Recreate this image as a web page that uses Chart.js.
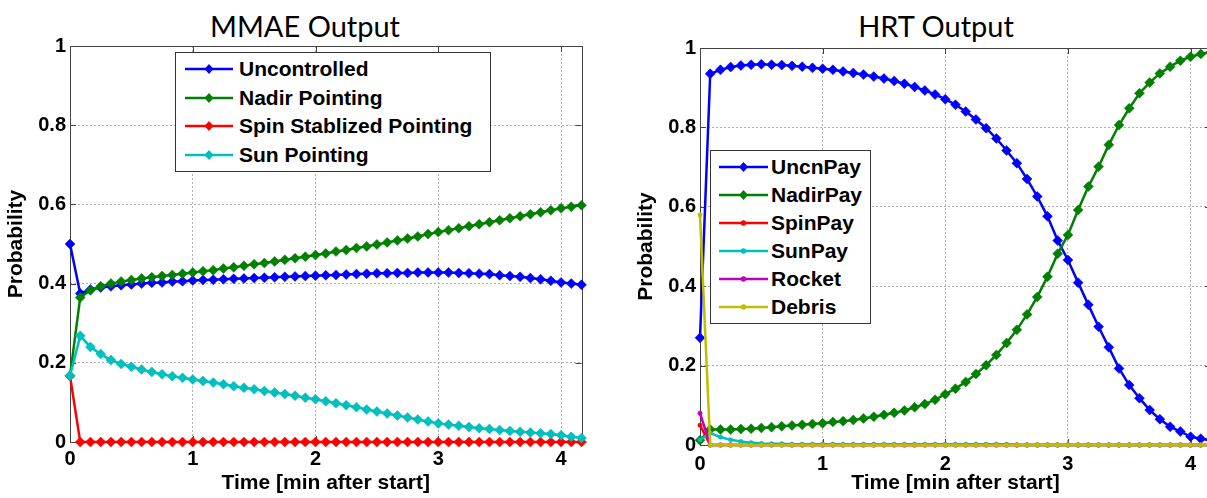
<!DOCTYPE html>
<html>
<head>
<meta charset="utf-8">
<title>MMAE Output / HRT Output</title>
<script src="https://cdn.jsdelivr.net/npm/chart.js@4.4.1/dist/chart.umd.min.js"></script>
<style>
  html, body { margin: 0; padding: 0; background: #fff; overflow: hidden; }
  body { position: relative; width: 1207px; height: 498px; }
  .panel { position: absolute; top: 0; width: 600px; height: 498px; }
  #mmaePanel { left: 0; }
  #hrtPanel { left: 630px; }
  .title { position: absolute; top: 11px; font: 29px Lato, "Open Sans", sans-serif; line-height: 1; color: #000; transform: translateX(-50%); white-space: nowrap; }
  .legend { position: absolute; box-sizing: border-box; background: #fff; border: 1px solid #333; padding: 2px 0; font: bold 21px "Liberation Sans", Arial, sans-serif; color: #000; }
  .legend .row { display: flex; align-items: center; white-space: nowrap; }
  .legend svg { flex: none; }
  #mmaeLegend { left: 175px; top: 52px; width: 316px; padding-left: 9px; }
  #mmaeLegend .row { height: 28.5px; }
  #mmaeLegend svg { margin-right: 6px; }
  #hrtLegend { left: 710px; top: 150px; width: 161px; padding-left: 8px; }
  #hrtLegend .row { height: 28px; }
  #hrtLegend svg { margin-right: 3px; }
</style>
</head>
<body>
<div class="title" style="left: 305px">MMAE Output</div>
<div class="title" style="left: 936px">HRT Output</div>
<div class="panel" id="mmaePanel"><canvas id="mmaeChart"></canvas></div>
<div class="panel" id="hrtPanel"><canvas id="hrtChart"></canvas></div>
<div class="legend" id="mmaeLegend"></div>
<div class="legend" id="hrtLegend"></div>

<script>
// time samples, minutes after start (5 s steps)
const timeMin = [0, 0.0833, 0.1667, 0.25, 0.3333, 0.4167, 0.5, 0.5833, 0.6667, 0.75, 0.8333, 0.9167,
  1, 1.0833, 1.1667, 1.25, 1.3333, 1.4167, 1.5, 1.5833, 1.6667, 1.75, 1.8333, 1.9167,
  2, 2.0833, 2.1667, 2.25, 2.3333, 2.4167, 2.5, 2.5833, 2.6667, 2.75, 2.8333, 2.9167,
  3, 3.0833, 3.1667, 3.25, 3.3333, 3.4167, 3.5, 3.5833, 3.6667, 3.75, 3.8333, 3.9167,
  4, 4.0833, 4.1667]
const xTicks = [0, 1, 2, 3, 4]
const yTicks = [0, 0.2, 0.4, 0.6, 0.8, 1]

// MMAE Output
const uncontrolled = [0.500, 0.375, 0.385, 0.390, 0.393, 0.396, 0.398, 0.400, 0.402, 0.403, 0.405, 0.406,
  0.408, 0.409, 0.410, 0.411, 0.412, 0.413, 0.414, 0.415, 0.416, 0.417, 0.418, 0.419,
  0.420, 0.421, 0.422, 0.423, 0.424, 0.425, 0.426, 0.426, 0.427, 0.427, 0.428, 0.428,
  0.428, 0.428, 0.427, 0.426, 0.425, 0.424, 0.421, 0.419, 0.417, 0.414, 0.411, 0.407,
  0.403, 0.400, 0.397]
const nadirPointing = [0.167, 0.365, 0.383, 0.393, 0.400, 0.405, 0.409, 0.413, 0.416, 0.419, 0.422, 0.425,
  0.428, 0.431, 0.434, 0.438, 0.441, 0.445, 0.449, 0.452, 0.456, 0.460, 0.464, 0.468,
  0.472, 0.476, 0.481, 0.485, 0.490, 0.494, 0.499, 0.504, 0.509, 0.514, 0.519, 0.525,
  0.530, 0.535, 0.540, 0.545, 0.550, 0.555, 0.560, 0.565, 0.570, 0.575, 0.580, 0.585,
  0.590, 0.594, 0.598]
const spinPointing = [0.167, 0, 0, 0, 0, 0, 0, 0, 0, 0, 0, 0,
  0, 0, 0, 0, 0, 0, 0, 0, 0, 0, 0, 0,
  0, 0, 0, 0, 0, 0, 0, 0, 0, 0, 0, 0,
  0, 0, 0, 0, 0, 0, 0, 0, 0, 0, 0, 0,
  0, 0, 0]
const sunPointing = [0.167, 0.268, 0.240, 0.222, 0.207, 0.197, 0.190, 0.183, 0.177, 0.171, 0.166, 0.162,
  0.158, 0.154, 0.150, 0.146, 0.141, 0.137, 0.133, 0.129, 0.125, 0.121, 0.117, 0.112,
  0.108, 0.103, 0.098, 0.093, 0.088, 0.082, 0.077, 0.072, 0.067, 0.062, 0.057, 0.052,
  0.047, 0.044, 0.041, 0.038, 0.035, 0.033, 0.030, 0.028, 0.026, 0.024, 0.022, 0.020,
  0.017, 0.013, 0.010]

// HRT Output
const uncnPay = [0.270, 0.935, 0.945, 0.952, 0.956, 0.958, 0.959, 0.958, 0.957, 0.955, 0.953, 0.950,
  0.948, 0.945, 0.941, 0.937, 0.933, 0.928, 0.923, 0.917, 0.910, 0.902, 0.893, 0.883,
  0.871, 0.857, 0.840, 0.820, 0.798, 0.772, 0.742, 0.710, 0.670, 0.626, 0.576, 0.515,
  0.466, 0.409, 0.353, 0.298, 0.246, 0.193, 0.151, 0.118, 0.088, 0.065, 0.046, 0.034,
  0.021, 0.016, 0.012]
const nadirPay = [0.012, 0.039, 0.039, 0.039, 0.040, 0.041, 0.043, 0.045, 0.047, 0.049, 0.051, 0.053,
  0.055, 0.058, 0.060, 0.063, 0.067, 0.071, 0.076, 0.081, 0.087, 0.095, 0.103, 0.114,
  0.128, 0.142, 0.159, 0.179, 0.201, 0.227, 0.257, 0.290, 0.329, 0.373, 0.424, 0.482,
  0.529, 0.592, 0.651, 0.701, 0.756, 0.806, 0.848, 0.886, 0.913, 0.936, 0.953, 0.968,
  0.978, 0.985, 0.990]
const spinPay = [0.050, 0, 0, 0, 0, 0, 0, 0, 0, 0, 0, 0,
  0, 0, 0, 0, 0, 0, 0, 0, 0, 0, 0, 0,
  0, 0, 0, 0, 0, 0, 0, 0, 0, 0, 0, 0,
  0, 0, 0, 0, 0, 0, 0, 0, 0, 0, 0, 0,
  0, 0, 0]
const sunPay = [0.013, 0.030, 0.020, 0.013, 0.009, 0.006, 0.004, 0.003, 0.003, 0.002, 0.002, 0.002,
  0.002, 0.002, 0.002, 0.002, 0.002, 0.002, 0.002, 0.002, 0.002, 0.002, 0.002, 0.002,
  0.002, 0.002, 0.002, 0.002, 0.002, 0.002, 0.002, 0, 0, 0, 0, 0,
  0, 0, 0, 0, 0, 0, 0, 0, 0, 0, 0, 0,
  0, 0, 0]
const rocket = [0.080, 0, 0, 0, 0, 0, 0, 0, 0, 0, 0, 0,
  0, 0, 0, 0, 0, 0, 0, 0, 0, 0, 0, 0,
  0, 0, 0, 0, 0, 0, 0, 0, 0, 0, 0, 0,
  0, 0, 0, 0, 0, 0, 0, 0, 0, 0, 0, 0,
  0, 0, 0]
const debris = [0.580, 0, 0, 0, 0, 0, 0, 0, 0, 0, 0, 0,
  0, 0, 0, 0, 0, 0, 0, 0, 0, 0, 0, 0,
  0, 0, 0, 0, 0, 0, 0, 0, 0, 0, 0, 0,
  0, 0, 0, 0, 0, 0, 0, 0, 0, 0, 0, 0,
  0, 0, 0]

const BLUE = "#0000ff", GREEN = "#008000", RED = "#ff0000"
const CYAN = "#00bfbf", MAGENTA = "#bf00bf", OLIVE = "#bfbf00"

const tickFont = { family: "'Liberation Sans', Arial, sans-serif", size: 20, weight: "bold" }
const axisFont = { family: "'Liberation Sans', Arial, sans-serif", size: 21, weight: "bold" }

function series(label, values, color, marker, i) {
  const dot = marker === "dot"
  return {
    label: label,
    data: timeMin.map((t, k) => ({ x: t, y: values[k] })),
    borderColor: color,
    backgroundColor: color,
    borderWidth: 2.5,
    pointStyle: dot ? "circle" : "rectRot",
    pointRadius: dot ? 2.2 : 5,
    pointBorderWidth: 0.5,
    pointBorderColor: color,
    pointBackgroundColor: color,
    tension: 0,
    clip: false,
    order: -i
  }
}

// axes box with inward tick marks, like MATLAB
const frame = {
  id: "frame",
  beforeDatasetsDraw(chart) {
    const { ctx, chartArea: a } = chart
    const x = chart.scales.x, y = chart.scales.y
    ctx.save()
    ctx.strokeStyle = "#444"
    ctx.lineWidth = 1
    ctx.strokeRect(Math.round(a.left) + 0.5, Math.round(a.top) + 0.5,
      Math.round(a.right - a.left), Math.round(a.bottom - a.top))
    ctx.beginPath()
    xTicks.forEach(v => {
      const px = Math.round(x.getPixelForValue(v)) + 0.5
      ctx.moveTo(px, a.bottom); ctx.lineTo(px, a.bottom - 6)
      ctx.moveTo(px, a.top); ctx.lineTo(px, a.top + 6)
    })
    yTicks.forEach(v => {
      const py = Math.round(y.getPixelForValue(v)) + 0.5
      ctx.moveTo(a.left, py); ctx.lineTo(a.left + 6, py)
      ctx.moveTo(a.right, py); ctx.lineTo(a.right - 6, py)
    })
    ctx.stroke()
    ctx.restore()
  }
}

function makeChart(canvasId, datasets, geom) {
  const canvas = document.getElementById(canvasId)
  return new Chart(canvas.getContext("2d"), {
    type: "line",
    data: { datasets: datasets },
    options: {
      responsive: true,
      maintainAspectRatio: false,
      animation: false,
      layout: { padding: { top: geom.top, right: geom.right, bottom: 0, left: 0 } },
      plugins: { legend: { display: false }, tooltip: { enabled: false } },
      scales: {
        x: {
          type: "linear",
          min: 0,
          max: 4.1667,
          afterFit: s => { s.height = geom.xHeight },
          ticks: { stepSize: 1, includeBounds: false, padding: geom.xTickPad, color: "#000", font: tickFont, maxRotation: 0 },
          grid: { color: "#b0b0b0", drawTicks: false },
          border: { display: false, dash: [2, 2] },
          title: { display: true, text: "Time [min after start]", color: "#000", font: axisFont, padding: { top: 0, bottom: 2 } }
        },
        y: {
          min: 0,
          max: 1,
          afterFit: s => { s.width = geom.yWidth },
          ticks: { stepSize: 0.2, padding: 4, color: "#000", font: tickFont, callback: v => String(Number(v.toFixed(1))) },
          grid: { color: "#b0b0b0", drawTicks: false },
          border: { display: false, dash: [2, 2] },
          title: { display: true, text: "Probability", color: "#000", font: axisFont, padding: { top: 4, bottom: 0 } }
        }
      }
    },
    plugins: [frame]
  })
}

function sampleSvg(ds, w) {
  const c = ds.borderColor, mid = w / 2
  const mark = ds.pointStyle === "circle"
    ? `<circle cx="${mid}" cy="7" r="${ds.pointRadius + 0.5}" fill="${c}"/>`
    : `<path d="M${mid} 2 L${mid + 4.5} 7 L${mid} 12 L${mid - 4.5} 7Z" fill="${c}"/>`
  return `<svg width="${w}" height="14"><line x1="0" y1="7" x2="${w}" y2="7" stroke="${c}" stroke-width="2.5"/>${mark}</svg>`
}

function buildLegend(chart, elId, w) {
  const el = document.getElementById(elId)
  el.innerHTML = ""
  chart.data.datasets.forEach(ds => {
    const row = document.createElement("div")
    row.className = "row"
    row.innerHTML = sampleSvg(ds, w)
    const span = document.createElement("span")
    span.textContent = ds.label
    row.appendChild(span)
    el.appendChild(row)
  })
}

const mmae = makeChart("mmaeChart", [
  series("Uncontrolled", uncontrolled, BLUE, "diamond", 0),
  series("Nadir Pointing", nadirPointing, GREEN, "diamond", 1),
  series("Spin Stablized Pointing", spinPointing, RED, "diamond", 2),
  series("Sun Pointing", sunPointing, CYAN, "diamond", 3)
], { top: 46, right: 18.5, yWidth: 70, xHeight: 56, xTickPad: 5 })

const hrt = makeChart("hrtChart", [
  series("UncnPay", uncnPay, BLUE, "diamond", 0),
  series("NadirPay", nadirPay, GREEN, "diamond", 1),
  series("SpinPay", spinPay, RED, "dot", 2),
  series("SunPay", sunPay, CYAN, "dot", 3),
  series("Rocket", rocket, MAGENTA, "dot", 4),
  series("Debris", debris, OLIVE, "dot", 5)
], { top: 48, right: 19, yWidth: 70, xHeight: 53, xTickPad: 7 })

buildLegend(mmae, "mmaeLegend", 48)
buildLegend(hrt, "hrtLegend", 49)
</script>
</body>
</html>
